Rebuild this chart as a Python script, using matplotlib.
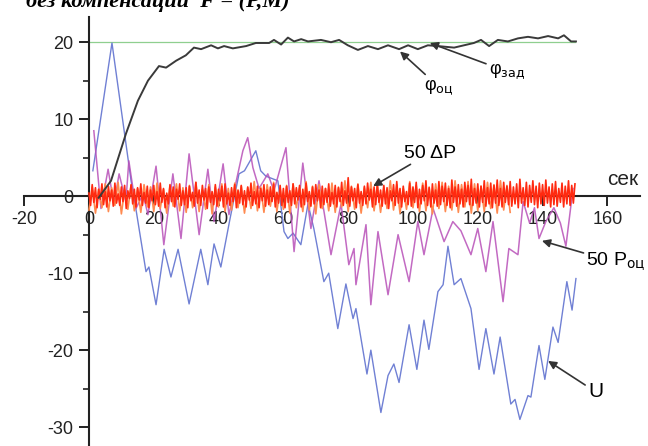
import numpy as np
import matplotlib.pyplot as plt

# время, сек
t_phi = [3.0, 6.8, 11.4, 15.1, 18.2, 21.6, 23.8, 26.9, 29.9, 32.4, 34.6, 37.7, 39.8, 41.7,
         44.4, 48.5, 51.5, 55.6, 57.1, 59.3, 61.4, 63.3, 65.5, 67.6, 71.6, 74.7, 77.2,
         79.9, 83.0, 86.1, 89.2, 92.3, 95.7, 98.5, 101.5, 104.6, 107.7, 112.7, 118.8,
         121.0, 123.5, 126.2, 129.3, 132.4, 135.5, 138.6, 141.7, 144.8, 146.6, 148.8, 150.3]
phi_est = [-0.2, 2.0, 8.1, 12.4, 15.0, 16.9, 16.7, 17.6, 18.3, 19.3, 19.1, 19.6, 19.2, 19.5,
           19.2, 19.5, 19.9, 19.9, 20.3, 19.7, 20.6, 20.1, 20.4, 20.1, 20.3, 20.0, 20.3,
           19.6, 19.0, 19.5, 19.1, 19.6, 19.1, 19.6, 19.1, 19.6, 19.5, 19.3, 19.9,
           20.3, 19.5, 20.3, 20.1, 20.5, 20.7, 20.5, 20.8, 20.5, 20.9, 20.1, 20.1]

t_ref = [0.0, 150.0]
phi_ref = [20.0, 20.0]

t_u = [1.2, 7.1, 13.0, 14.5, 17.6, 18.5, 20.7, 23.2, 25.3, 27.5, 30.9, 34.5, 36.7, 38.6,
       40.7, 43.5, 46.3, 48.0, 51.5, 53.0, 54.6, 58.3, 60.2, 61.4, 63.0, 65.4, 67.6, 69.4,
       72.5, 74.0, 76.8, 79.3, 81.5, 82.4, 85.8, 87.0, 90.1, 92.3, 94.1, 95.7, 98.8, 101.2,
       103.4, 104.9, 107.7, 109.3, 110.8, 112.7, 114.8, 117.9, 120.4, 122.5, 125.0, 126.9,
       130.2, 131.5, 133.0, 135.5, 136.4, 138.9, 140.7, 143.2, 144.8, 147.5, 149.1, 150.3]
u = [3.3, 19.9, 2.0, -1.7, -9.8, -9.2, -14.1, -6.9, -10.5, -6.9, -14.0, -6.9, -11.5, -6.2,
     -9.2, -3.0, 2.9, 3.3, 5.9, 3.3, 2.6, 2.0, -4.6, -5.5, -4.8, -6.3, -1.0, -4.2,
     -11.1, -10.0, -17.2, -11.4, -15.9, -14.6, -23.1, -20.0, -28.1, -23.3, -21.8, -24.2, -16.7, -22.5,
     -16.1, -19.9, -12.4, -11.5, -6.5, -11.5, -10.7, -14.6, -22.5, -17.2, -23.1, -18.3,
     -27.0, -26.4, -29.0, -25.9, -26.1, -19.4, -23.8, -17.0, -19.0, -11.1, -14.8, -10.7]

t_p = [1.5, 3.7, 5.9, 7.7, 9.3, 11.4, 12.3, 14.5, 16.7, 18.2, 20.7, 23.1, 25.9, 28.4, 30.9,
       34.0, 36.7, 38.6, 41.4, 43.2, 47.5, 49.0, 50.6, 52.5, 55.2, 57.1, 60.8, 63.3, 66.0,
       68.5, 71.0, 74.7, 77.8, 80.2, 81.8, 82.4, 85.5, 87.0, 89.2, 92.3, 95.4, 98.8, 101.5,
       103.4, 106.2, 109.6, 112.3, 114.8, 117.9, 120.0, 122.5, 124.7, 127.8, 129.6, 132.4,
       134.0, 136.0, 137.5, 138.9, 141.0, 143.5, 145.5, 147.2, 149.4]
p_est = [8.5, -1.6, 3.5, -1.0, 2.9, -0.7, 4.6, -1.6, 0.3, -2.4, 3.9, -6.3, 2.9, -5.5, 5.5,
         -5.0, 3.5, -3.3, 4.2, -2.4, 5.9, 7.6, 3.7, 1.0, 2.9, 0.7, 6.3, -7.2, 4.3,
         -4.2, 2.0, -7.6, -1.0, -8.9, -6.8, -11.5, -3.7, -14.1, -4.6, -12.8, -5.0, -11.1, -3.3,
         -7.6, -1.6, -5.9, -3.3, -4.5, -7.6, -4.2, -9.8, -3.3, -13.7, -6.8, -7.6,
         -0.7, -3.5, -1.5, -5.5, -3.3, -1.5, -3.5, -6.5, 1.0]

# 50*dP, шаг 0.5 с
dp_step = 0.5
dp = [0.4, -1.2, 1.5, -0.8, 1.1, -1.5, 0.9, -0.4, 1.6, -1.1, 0.6, -1.4, 1.3, -0.6, 0.8, -1.3, 1.7, -0.9, 0.3, -1.2,
      1.2, -0.7, 1.4, -1.6, 0.7, -0.3, 1.5, -1.0, 0.9, -1.4, 1.1, -0.5, 1.6, -1.2, 0.5, -0.9, 1.3, -1.5, 0.8, -0.6,
      1.4, -1.1, 0.6, -1.3, 1.7, -0.8, 1.0, -1.5, 0.4, -1.0, 1.5, -0.7, 1.2, -1.4, 0.9, -0.4, 1.6, -1.2, 0.7, -1.1,
      1.1, -1.5, 1.3, -0.6, 0.5, -1.3, 1.8, -0.9, 0.8, -1.2, 1.4, -0.5, 1.0, -1.6, 1.2, -0.8, 0.6, -1.1, 1.5, -1.3,
      0.9, -0.6, 1.3, -1.4, 1.6, -1.0, 0.4, -1.2, 1.1, -0.7, 1.5, -1.5, 0.8, -0.9, 1.4, -1.1, 0.7, -1.4, 1.2, -0.5,
      1.7, -1.2, 0.6, -1.0, 1.3, -1.5, 1.0, -0.6, 1.5, -1.3, 0.8, -1.1, 1.2, -0.7, 1.6, -1.4, 0.5, -0.9, 1.4, -1.2,
      1.0, -1.5, 1.3, -0.8, 0.7, -1.2, 1.6, -1.0, 1.1, -0.5, 1.4, -1.4, 0.9, -1.1, 1.7, -0.7, 0.6, -1.3, 1.2, -1.0,
      1.5, -0.6, 0.8, -1.5, 1.3, -1.1, 1.0, -0.8, 1.6, -1.3, 0.5, -1.0, 1.4, -1.4, 1.1, -0.7, 1.8, -1.2, 0.7, -0.9,
      2.4, -1.3, 1.2, -0.6, 1.0, -1.5, 1.5, -0.9, 0.6, -1.2, 1.3, -1.0, 1.7, -0.5, 0.9, -1.4, 1.2, -1.1, 1.6, -0.8,
      0.8, -1.3, 1.4, -1.0, 1.1, -1.6, 0.7, -0.6, 1.5, -1.2, 1.9, -0.9, 1.0, -1.4, 1.3, -0.7, 0.6, -1.1, 1.7, -1.3,
      1.2, -0.8, 1.8, -1.5, 0.9, -1.0, 1.4, -0.6, 2.0, -1.2, 1.1, -1.4, 1.6, -0.9, 0.8, -1.3, 1.9, -1.1, 1.3, -0.7,
      1.7, -1.2, 1.0, -1.5, 2.1, -0.8, 1.2, -1.3, 1.5, -1.0, 0.9, -1.4, 1.8, -0.7, 1.4, -1.1, 2.2, -1.2, 1.0, -0.9,
      1.6, -1.4, 1.3, -0.8, 2.0, -1.3, 1.1, -1.0, 1.7, -1.5, 1.4, -0.9, 2.1, -1.2, 1.0, -1.4, 1.8, -0.8, 1.3, -1.1,
      1.9, -1.3, 1.2, -1.0, 1.6, -1.5, 2.2, -0.9, 1.1, -1.2, 1.8, -1.4, 1.4, -0.8, 2.0, -1.1, 1.3, -1.5, 1.7, -1.0,
      1.5, -1.2, 2.1, -0.9, 1.2, -1.4, 1.6, -1.1, 1.9, -1.3, 1.0, -0.8, 1.7, -1.4, 1.3, -1.0, 2.0, -1.2, 1.4, -0.9, 1.6]

# второй (светлый) канал того же сигнала, шаг 1 с
dp2_step = 1.0
dp2 = [-1.8, 1.2, -2.2, 0.9, -1.5, 1.6, -2.0, 1.1, -1.2, 1.8, -2.3, 0.8, -1.7, 1.4, -1.9, 1.0, -2.1, 1.5, -1.4, 1.2,
       -2.0, 1.7, -1.6, 0.9, -2.2, 1.3, -1.3, 1.6, -1.9, 1.1, -2.1, 1.4, -1.5, 1.8, -2.0, 0.9, -1.7, 1.5, -2.3, 1.2,
       -1.4, 1.6, -2.0, 1.0, -1.8, 1.7, -1.5, 1.3, -2.2, 1.1, -1.6, 1.9, -1.9, 1.2, -2.1, 1.5, -1.3, 1.8, -2.0, 1.0,
       -1.7, 1.4, -2.2, 1.6, -1.5, 1.1, -2.0, 1.9, -1.8, 1.3, -2.3, 1.5, -1.6, 1.0, -1.9, 1.7, -2.1, 1.2, -1.4, 2.0,
       -2.0, 1.3, -1.7, 1.6, -2.2, 1.1, -1.5, 1.8, -1.9, 1.4, -2.1, 1.2, -1.6, 2.0, -1.8, 1.5, -2.2, 1.0, -1.7, 1.9,
       -1.5, 1.4, -2.0, 1.7, -1.9, 1.2, -2.3, 1.6, -1.6, 1.8, -2.0, 1.3, -1.8, 2.0, -2.1, 1.5, -1.4, 1.9, -2.2, 1.6,
       -1.9, 1.3, -2.0, 1.8, -1.6, 1.5, -2.2, 2.0, -1.8, 1.4, -2.1]

xticks = [-20, 0, 20, 40, 60, 80, 100, 120, 140, 160]
yticks = [-30, -20, -10, 0, 10, 20]

# %%
plt.rcParams['font.family'] = ['Liberation Sans', 'DejaVu Sans']
plt.rcParams['mathtext.fontset'] = 'dejavusans'
plt.rcParams['axes.unicode_minus'] = False

fig = plt.figure(figsize=(6.48, 4.46), dpi=100)
ax = fig.add_axes([0.0373, -0.025, 0.95, 0.9873])
ax.set_xlim(-20, 170)
ax.set_ylim(-33.9, 23.3)

t_dp = np.arange(len(dp)) * dp_step
t_dp2 = np.arange(len(dp2)) * dp2_step

ax.plot(t_ref, phi_ref, color='#8fcf8f', lw=0.9, zorder=2)
ax.plot(t_u, u, color='#7080d4', lw=1.0, zorder=2)
ax.plot(t_p, p_est, color='#b850b8', lw=1.1, alpha=0.85, zorder=2)
ax.plot(t_dp2, dp2, color='#ff8a50', lw=1.2, zorder=3)
ax.plot(t_dp, dp, color='#ff2a10', lw=1.2, zorder=3)
ax.plot(t_phi, phi_est, color='#3a3a3a', lw=1.4, zorder=3)

# оси через ноль
for side in ['top', 'right']:
    ax.spines[side].set_visible(False)
ax.spines['left'].set_position(('data', 0))
ax.spines['bottom'].set_position(('data', 0))
for side in ['left', 'bottom']:
    ax.spines[side].set_linewidth(1.5)
    ax.spines[side].set_color('#222222')
    ax.spines[side].set_zorder(2.5)

ax.set_xticks(xticks)
ax.set_yticks(yticks)
ax.set_yticks(np.arange(-30, 25, 5), minor=True)
ax.tick_params(axis='both', which='major', direction='out', length=7, width=1.4,
               labelsize=13, colors='#222222', pad=4)
ax.tick_params(axis='y', which='minor', direction='out', length=4, width=1.2, colors='#222222')

arrow = dict(arrowstyle='-|>', color='#333333', lw=1.2, mutation_scale=12, shrinkA=0, shrinkB=0)
ax.annotate('φ$_{\\mathrm{оц}}$', xy=(96.0, 18.8), xytext=(108.0, 14.2), fontsize=13,
            ha='center', va='center', arrowprops=arrow)
ax.annotate('φ$_{\\mathrm{зад}}$', xy=(105.2, 19.9), xytext=(129.0, 16.2), fontsize=13,
            ha='center', va='center', arrowprops=arrow)
ax.annotate('50 ΔP', xy=(87.7, 1.3), xytext=(105.2, 5.6), fontsize=14,
            ha='center', va='center', arrowprops=arrow)
ax.annotate('50 P$_{\\mathrm{оц}}$', xy=(139.8, -5.8), xytext=(153.5, -8.6), fontsize=14,
            ha='left', va='center', arrowprops=arrow)
ax.annotate('U', xy=(141.7, -21.4), xytext=(154.0, -25.4), fontsize=15,
            ha='left', va='center', arrowprops=arrow)
ax.text(164.8, 2.2, 'сек', fontsize=15, ha='center', va='center', color='#222222')

fig.text(0.04, 0.985, 'без компенсации  F = (P,M)', family='Liberation Serif',
         fontsize=16, fontweight='bold', style='italic', va='baseline')

fig.savefig('out.png', dpi=100)
